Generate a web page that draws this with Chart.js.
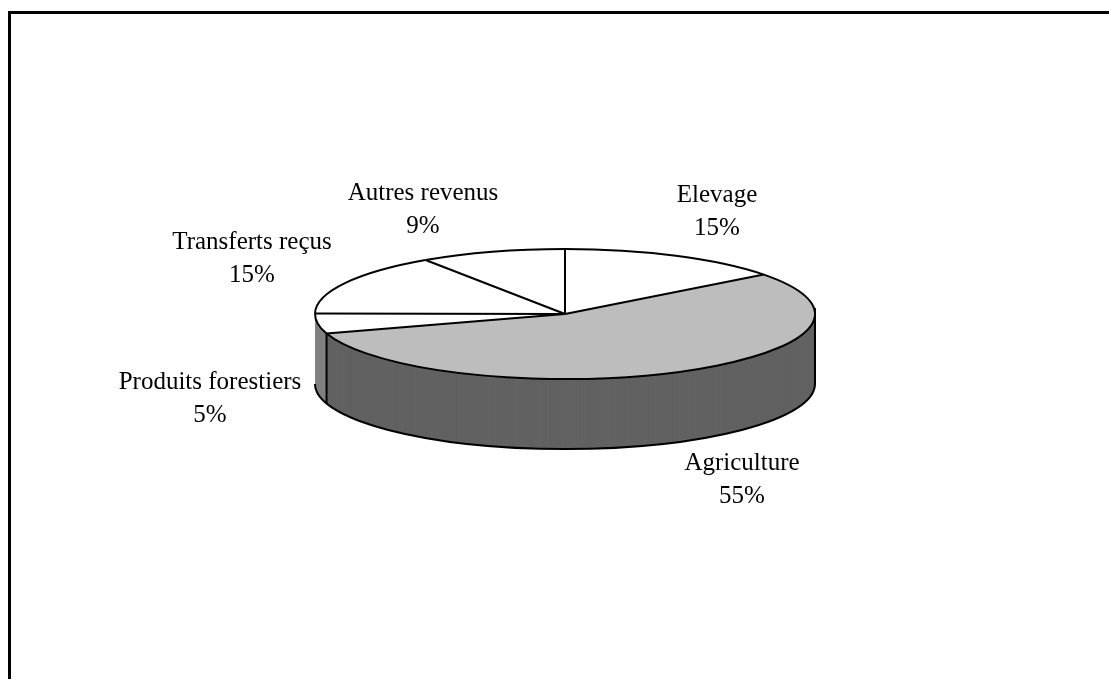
<!DOCTYPE html>
<html lang="fr">
<head>
<meta charset="utf-8">
<title>Sources de revenus</title>
<script src="https://cdn.jsdelivr.net/npm/chart.js@4/dist/chart.umd.min.js"></script>
<style>
html,body{margin:0;padding:0;background:#fff;overflow:hidden}
canvas{display:block}
</style>
</head>
<body>
<canvas id="c" width="1109" height="679"></canvas>
<script>
const categories = ["Elevage", "Agriculture", "Produits forestiers", "Transferts reçus", "Autres revenus"];
const shares = [14.6, 55.4, 5, 15.4, 9.4];
const topColors = ["#ffffff", "#bdbdbd", "#ffffff", "#ffffff", "#ffffff"];
const sideColors = [null, "#626262", "#808080", null, null];

const squash = 0.26, depth = 70;
const labelCentres = [[717, 195], [742, 463], [210, 382], [252, 242], [423, 193]];
const lineGap = 33;

const pie3d = {
  id: "pie3d",
  beforeDraw(chart) {
    const ctx = chart.ctx;
    ctx.save();
    ctx.fillStyle = "#000";
    ctx.fillRect(8, 11, 1101, 3);
    ctx.fillRect(8, 11, 3, 668);
    ctx.restore();
  },
  beforeDatasetsDraw(chart) {
    const ctx = chart.ctx, arcs = chart.getDatasetMeta(0).data;
    const cy = arcs[0].y;
    ctx.save();
    ctx.translate(0, cy);
    ctx.scale(1, squash);
    ctx.translate(0, -cy);
    for (let i = arcs.length - 1; i >= 0; i--) {
      if (!sideColors[i]) continue;
      const shim = Object.create(arcs[i]);
      Object.defineProperty(shim, "options", { value: {
        backgroundColor: sideColors[i], borderColor: sideColors[i], borderWidth: 0,
        borderAlign: "center", borderRadius: 0, offset: 0, spacing: 0, circular: true
      }, writable: true });
      for (let d = depth; d >= 0.5; d -= 0.5) {
        ctx.save();
        ctx.translate(0, d / squash);
        shim.draw(ctx);
        ctx.restore();
      }
    }
  },
  afterDatasetsDraw(chart) {
    const ctx = chart.ctx, arcs = chart.getDatasetMeta(0).data;
    ctx.restore();
    const { x: cx, y: cy, outerRadius: r } = arcs[0];
    const ry = r * squash;
    ctx.save();
    ctx.strokeStyle = "#000";
    ctx.lineWidth = 2;
    arcs.forEach(a => {
      ctx.beginPath();
      ctx.moveTo(cx, cy);
      ctx.lineTo(cx + r * Math.cos(a.startAngle), cy + ry * Math.sin(a.startAngle));
      ctx.stroke();
      ctx.beginPath();
      ctx.ellipse(cx, cy, r, ry, 0, a.startAngle, a.endAngle);
      ctx.stroke();
    });
    // front rim of the wall
    ctx.beginPath();
    ctx.ellipse(cx, cy + depth, r, ry, 0, 0, Math.PI);
    ctx.stroke();
    ctx.beginPath();
    ctx.moveTo(cx + r, cy - 6);
    ctx.lineTo(cx + r, cy + depth);
    ctx.stroke();
    // wall edge between Agriculture and Produits forestiers
    const e = arcs[1].endAngle, ex = cx + r * Math.cos(e), ey = cy + ry * Math.sin(e);
    ctx.beginPath();
    ctx.moveTo(ex, ey);
    ctx.lineTo(ex, ey + depth);
    ctx.stroke();
    // labels
    ctx.fillStyle = "#000";
    ctx.font = "25px 'Liberation Serif'";
    ctx.textAlign = "center";
    ctx.textBaseline = "middle";
    categories.forEach((name, i) => {
      const [lx, ly] = labelCentres[i];
      ctx.fillText(name, lx, ly);
      ctx.fillText(Math.round(shares[i]) + "%", lx, ly + lineGap);
    });
    ctx.restore();
  }
};

new Chart(document.getElementById("c"), {
  type: "pie",
  data: {
    labels: categories,
    datasets: [{ data: shares, backgroundColor: topColors, borderWidth: 0 }]
  },
  options: {
    responsive: false,
    animation: false,
    layout: { padding: { left: 315, right: 294, top: 64, bottom: 115 } },
    plugins: { legend: { display: false }, tooltip: { enabled: false } }
  },
  plugins: [pie3d]
});
</script>
</body>
</html>
